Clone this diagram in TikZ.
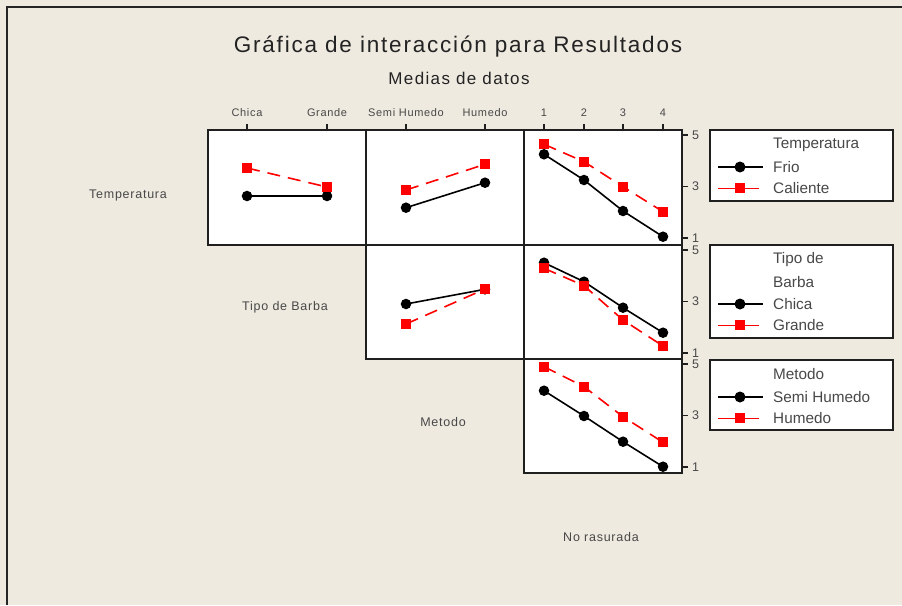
\documentclass[tikz,border=0pt]{standalone}
\usepackage{fontspec}
\newfontfamily\titlefont[LetterSpace=8]{Liberation Sans}
\newfontfamily\plotfont[LetterSpace=6]{Liberation Sans}
\newfontfamily\legendfont{Liberation Sans}
\definecolor{bgbeige}{RGB}{238, 234, 224}
\definecolor{txtgray}{RGB}{72, 72, 72}
\definecolor{titlegray}{RGB}{35, 35, 35}
\definecolor{plotred}{RGB}{255, 0, 0}
\usetikzlibrary{plotmarks, positioning}

\tikzset{
  panel/.style={draw=black!88, line width=1.5pt, fill=white},
  axisline/.style={draw=black!88, line width=1.3pt},
  lowlvl/.style={black, line width=1.6pt, mark=*, mark size=4.4pt},
  highlvl/.style={plotred, line width=1.6pt, dash pattern=on 13pt off 8pt, mark=square*, mark size=4.2pt, mark options={solid}},
  titletxt/.style={font=\titlefont\fontsize{22.5}{27}\selectfont, text=titlegray},
  subtxt/.style={font=\titlefont\fontsize{17}{20}\selectfont, text=titlegray},
  ticklbl/.style={font=\plotfont\fontsize{11}{13}\selectfont, text=txtgray, inner sep=0pt},
  scalelbl/.style={font=\plotfont\fontsize{12.5}{14}\selectfont, text=txtgray, inner sep=0pt, anchor=west},
  varlbl/.style={font=\plotfont\fontsize{12.5}{15}\selectfont, text=txtgray},
  legendbox/.style={draw=black!88, line width=1.5pt, fill=white},
  legtxt/.style={font=\legendfont\fontsize{15.3}{18}\selectfont, text=txtgray, anchor=west, inner sep=0pt}
}

\begin{document}
\begin{tikzpicture}[x=1pt, y=-1pt]
  \useasboundingbox (0,0) rectangle (902,605);
  \fill[bgbeige] (0,0) rectangle (902,605);
  \draw[line width=2pt, black!85] (7,605) -- (7,7) -- (902,7);

  % Titles
  \node[titletxt] (title) at (458,47) {Gráfica de interacción para Resultados};
  \node[subtxt] (subtitle) at (459,78) {Medias de datos};

  % Diagonal labels
  \node[varlbl] (lbltemp) at (128,195) {Temperatura};
  \node[varlbl] (lblbarba) at (285,307) {Tipo de Barba};
  \node[varlbl] (lblmetodo) at (443,422) {Metodo};
  \node[varlbl] (lblrasura) at (601,537) {No rasurada};

  % Panels
  \draw[panel] (208,130) rectangle (366,245);
  \draw[panel] (366,130) rectangle (524,245);
  \draw[panel] (524,130) rectangle (682,245);
  \draw[panel] (366,245) rectangle (524,359);
  \draw[panel] (524,245) rectangle (682,359);
  \draw[panel] (524,359) rectangle (682,473);

  % Top ticks
  \foreach \tx/\tl [count=\i] in {247/Chica, 327/Grande, 406/Semi Humedo, 485/Humedo, 544/1, 584/2, 623/3, 663/4} {
    \draw[axisline] (\tx,124) -- (\tx,130);
    \node[ticklbl] (xt\i) at (\tx,113) {\tl};
  }

  % Right ticks
  \foreach \rowtop [count=\r] in {130,245,359} {
    \foreach \v/\dy in {5/5, 3/56.5, 1/108} {
      \draw[axisline] (682,{\rowtop+\dy}) -- (688,{\rowtop+\dy});
      \node[scalelbl] (yt\r-\v) at (692,{\rowtop+\dy}) {\v};
    }
  }

  % Row 1: Temperatura
  \draw[lowlvl] plot coordinates {(247,196) (327,196)};
  \draw[highlvl] plot coordinates {(247,168) (327,187)};
  \draw[lowlvl] plot coordinates {(406,207.7) (485,182.7)};
  \draw[highlvl] plot coordinates {(406,190) (485,164.3)};
  \draw[lowlvl] plot coordinates {(544,154.3) (584,180) (623,211) (663,236.7)};
  \draw[highlvl] plot coordinates {(544,144.3) (584,161.7) (623,186.7) (663,211.7)};

  % Row 2: Tipo de Barba
  \draw[lowlvl] plot coordinates {(406,304) (485,289.3)};
  \draw[highlvl] plot coordinates {(406,324) (485,289)};
  \draw[lowlvl] plot coordinates {(544,262.7) (584,281.7) (623,307.7) (663,332.7)};
  \draw[highlvl] plot coordinates {(544,268.3) (584,285.7) (623,320) (663,346)};

  % Row 3: Metodo
  \draw[lowlvl] plot coordinates {(544,390.7) (584,416) (623,441.7) (663,466.7)};
  \draw[highlvl] plot coordinates {(544,366.7) (584,386.7) (623,416.7) (663,442.3)};

  % Legends
  \draw[legendbox] (710,130) rectangle (893,201);
  \node[legtxt] (legtemp) at (773,145) {Temperatura};
  \node[legtxt] (legfrio) at (773,167) {Frio};
  \node[legtxt] (legcal) at (773,188) {Caliente};

  \draw[legendbox] (710,245) rectangle (893,338);
  \node[legtxt] (legtipo) at (773,260) {Tipo de};
  \node[legtxt] (legbarba) at (773,282) {Barba};
  \node[legtxt] (legchica) at (773,304) {Chica};
  \node[legtxt] (leggrande) at (773,325) {Grande};

  \draw[legendbox] (710,360) rectangle (893,430);
  \node[legtxt] (legmet) at (773,374) {Metodo};
  \node[legtxt] (legsemi) at (773,397) {Semi Humedo};
  \node[legtxt] (leghum) at (773,418) {Humedo};

  \foreach \ly in {167,304,397} {
    \draw[black, line width=1.5pt] (718,\ly) -- (763,\ly);
    \fill (740,\ly) circle (5.5pt);
  }
  \foreach \ly in {188,325,418} {
    \draw[plotred, line width=1pt] (718,\ly) -- (759,\ly);
    \fill[plotred] (740,\ly) ++(-5,-5) rectangle ++(10,10);
  }
\end{tikzpicture}
\end{document}
